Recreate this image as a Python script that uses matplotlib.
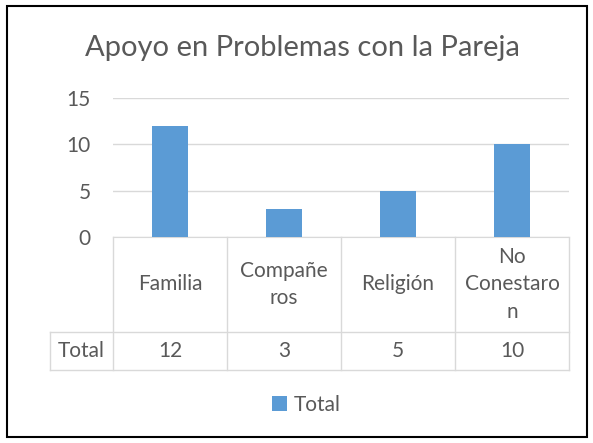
import matplotlib.pyplot as plt
from matplotlib.patches import Rectangle
from matplotlib.transforms import blended_transform_factory

categories = ["Familia", "Compañe\nros", "Religión", "No\nConestaro\nn"]
totals = [12, 3, 5, 10]
series_name = "Total"
title = "Apoyo en Problemas con la Pareja"

bar_color = "#5b9bd5"
text_color = "#595959"
grid_color = "#d9d9d9"
fs = 15

plt.rcParams['font.family'] = ['Lato', 'DejaVu Sans']

W, H = 593, 443
fig = plt.figure(figsize=(W / 100, H / 100), dpi=100)

# outer chart border
fig.patches.append(Rectangle((7 / W, 6 / H), 580 / W, 431 / H, transform=fig.transFigure,
                             fill=False, edgecolor="black", linewidth=1.5))

left, right, top, bottom = 113, 569, 98, 237
ax = fig.add_axes([left / W, 1 - bottom / H, (right - left) / W, (bottom - top) / H])
x = range(len(categories))
ax.bar(x, totals, width=0.31, color=bar_color, zorder=3, label=series_name)
ax.set_xlim(-0.5, len(categories) - 0.5)
ax.set_ylim(0, 15)
ax.set_yticks([0, 5, 10, 15])
ax.yaxis.grid(True, color=grid_color, linewidth=1)
ax.set_axisbelow(True)
for s in ["top", "right", "left"]:
    ax.spines[s].set_visible(False)
ax.spines["bottom"].set_color(grid_color)
ax.set_xticks([])
ax.tick_params(axis="y", length=0, pad=16, labelsize=fs, labelcolor=text_color)

fig.text(302 / W, 1 - 48 / H, title, ha="center", va="center", fontsize=21, color=text_color)

# data table under the axis
tr = blended_transform_factory(ax.transData, ax.transAxes)
px = (bottom - top)
row_split = -(332 - bottom) / px
tab_bottom = -(370 - bottom) / px
label_left = -0.5 - (left - 50) / ((right - left) / len(categories))
n = len(categories)
for i in range(n + 1):
    ax.plot([i - 0.5, i - 0.5], [0, tab_bottom], color=grid_color, lw=1, transform=tr, clip_on=False)
for yy in [row_split, tab_bottom]:
    ax.plot([label_left, n - 0.5], [yy, yy], color=grid_color, lw=1, transform=tr, clip_on=False)
ax.plot([label_left, label_left], [row_split, tab_bottom], color=grid_color, lw=1, transform=tr, clip_on=False)

for i, (c, v) in enumerate(zip(categories, totals)):
    ax.text(i, row_split / 2, c, transform=tr, ha="center", va="center", fontsize=fs,
            color=text_color, linespacing=1.45)
    ax.text(i, (row_split + tab_bottom) / 2, str(v), transform=tr, ha="center", va="center",
            fontsize=fs, color=text_color)
ax.text((label_left - 0.5) / 2, (row_split + tab_bottom) / 2, series_name, transform=tr,
        ha="center", va="center", fontsize=fs, color=text_color)

fig.legend(loc="center", bbox_to_anchor=(306 / W, 1 - 405 / H), frameon=False, fontsize=fs,
           labelcolor=text_color, handlelength=0.75, handleheight=0.75, handletextpad=0.3)

fig.savefig("out.png", dpi=100)
